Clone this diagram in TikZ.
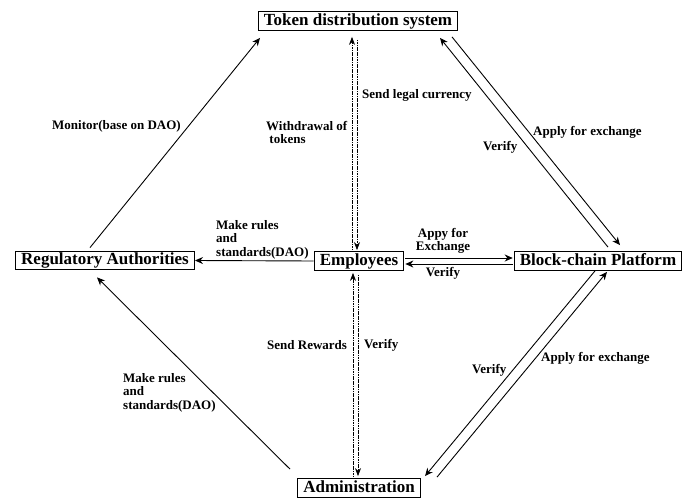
\documentclass[tikz,border=0pt]{standalone}
\usepackage{fontspec}
\setmainfont{Liberation Serif}
\usetikzlibrary{arrows.meta,calc}
\begin{document}
\begin{tikzpicture}[x=1pt,y=-1pt,
  box/.style={draw,line width=1.3pt,inner xsep=5.5pt,inner ysep=1.5pt,text height=12pt,text depth=3.5pt,font=\fontsize{17}{19}\selectfont\bfseries},
  lab/.style={inner sep=0pt,font=\fontsize{13}{13.5}\selectfont\bfseries,align=left},
  arr/.style={line width=0.9pt,-{Stealth[length=8pt,width=7pt]}},
  darr/.style={line width=0.7pt,dash pattern=on 1.2pt off 0.5pt,-{Stealth[length=8pt,width=6pt]}}]
\useasboundingbox (0,0) rectangle (690,500);
\node[box] (tok) at (358,21) {Token distribution system};
\node[box] (reg) at (105,260.5) {Regulatory Authorities};
\node[box] (emp) at (359,261) {Employees};
\node[box] (blk) at (598,261) {Block-chain Platform};
\node[box] (adm) at (359,488) {Administration};
% Regulatory -> Token
\draw[arr] ($(reg.north)+(-15,-3)$) -- ($(tok.south)+(-98,7)$);
% Token <-> Employees
\draw[darr] ($(emp.north)+(-7,-1)$) -- ($(emp.north|-tok.south)+(-7,6)$);
\draw[darr] ($(emp.north|-tok.south)+(-2,9)$) -- ($(emp.north)+(-2,-1)$);
% Employees <-> Administration
\draw[darr] ($(adm.north)+(-6,-1)$) -- ($(emp.south)+(-6,2)$);
\draw[darr] ($(emp.south)+(-1,4)$) -- ($(adm.north)+(-1,-2)$);
% Employees -> Regulatory
\draw[arr] (emp.west) -- (reg.east);
% Employees <-> Block-chain
\draw[arr] ($(emp.east)+(1,-3)$) -- ($(blk.west)+(-1,-3)$);
\draw[arr] ($(blk.west)+(-1,3)$) -- ($(emp.east)+(1,3)$);
% Token <-> Block-chain
\draw[arr] ($(blk.north)+(10,-4)$) -- ($(tok.south)+(82,7)$);
\draw[arr] ($(tok.south)+(94,6)$) -- ($(blk.north)+(22,-6)$);
% Block-chain <-> Administration
\draw[arr] ($(blk.south)+(-3,0)$) -- ($(adm.north)+(66,-2)$);
\draw[arr] ($(adm.north)+(78,-1)$) -- ($(blk.south)+(9,1)$);
% Administration -> Regulatory
\draw[arr] ($(adm.north)+(-69,-9)$) -- ($(reg.south)+(-8,7)$);
% labels
\node[lab,anchor=west] (l1) at (52,126) {Monitor(base on DAO)};
\node[lab,anchor=north west] (l2) at (266,121) {Withdrawal of\\\ tokens};
\node[lab,anchor=west] (l3) at (362,95) {Send legal currency};
\node[lab,anchor=west] (l4) at (483,147) {Verify};
\node[lab,anchor=west] (l5) at (533,132) {Apply for exchange};
\node[lab,anchor=north west] (l6) at (216,220) {Make rules\\and\\standards(DAO)};
\node[lab,align=center] (l7) at (443,241) {Appy for\\Exchange};
\node[lab] (l8) at (443,273) {Verify};
\node[lab,anchor=west] (l9) at (267,345) {Send Rewards};
\node[lab,anchor=west] (l10) at (364,345) {Verify};
\node[lab,anchor=north west] (l11) at (123,373) {Make rules\\and\\standards(DAO)};
\node[lab,anchor=west] (l12) at (472,370) {Verify};
\node[lab,anchor=west] (l13) at (541,358) {Apply for exchange};
\end{tikzpicture}
\end{document}
